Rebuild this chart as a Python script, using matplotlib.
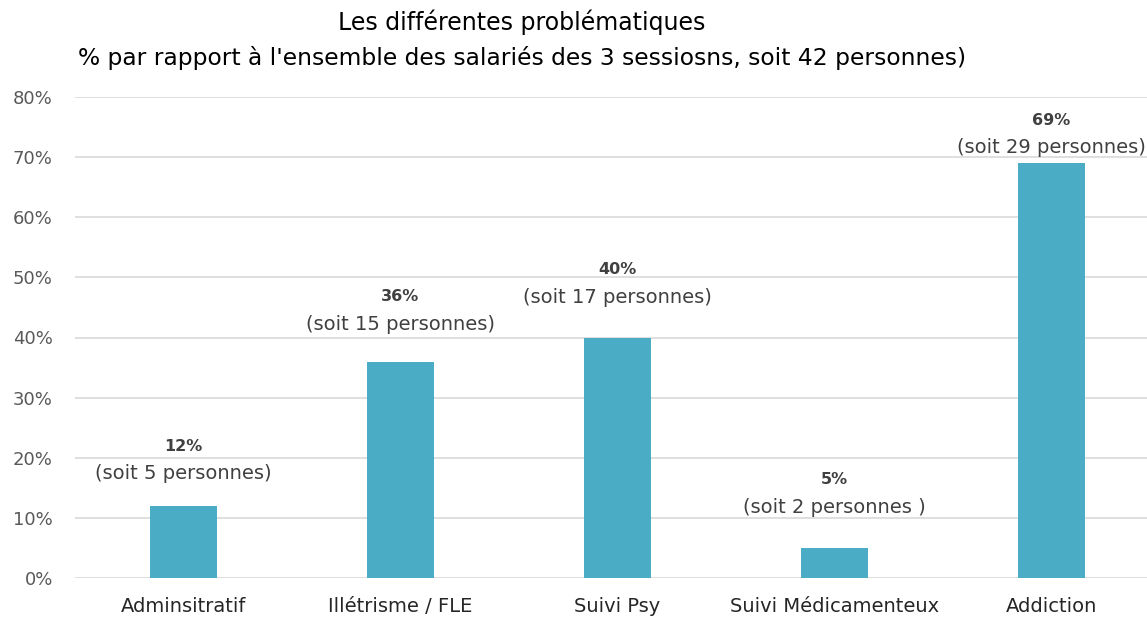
import matplotlib
matplotlib.use("Agg")
import matplotlib.pyplot as plt
import numpy as np

categories = ["Adminsitratif", "Illétrisme / FLE", "Suivi Psy", "Suivi Médicamenteux", "Addiction"]
values = [12, 36, 40, 5, 69]
persons = ["(soit 5 personnes)", "(soit 15 personnes)", "(soit 17 personnes)",
           "(soit 2 personnes )", "(soit 29 personnes)"]
yticks = [0, 10, 20, 30, 40, 50, 60, 70, 80]

# label offsets above bar top, in points
offsets = [23, 27, 29, 29, 11]

bar_color = "#4BACC6"
text_color = "#404040"

fig = plt.figure(figsize=(11.47, 6.2), dpi=100)
ax = fig.add_axes([75 / 1147, 42 / 620, 1085 / 1147, 481 / 620])

x = np.arange(len(categories))
ax.bar(x, values, width=0.31, color=bar_color, zorder=3)

ax.set_xlim(-0.5, len(categories) - 0.5)
ax.set_ylim(0, 80)
ax.set_yticks(yticks)
ax.set_yticklabels([f"{v}%" for v in yticks], fontsize=13, color="#595959")
ax.set_xticks(x)
ax.set_xticklabels(categories, fontsize=14, color="#262626")
ax.tick_params(axis="both", length=0)
ax.tick_params(axis="y", pad=16)
ax.tick_params(axis="x", pad=14)
ax.grid(axis="y", color="#d9d9d9", linewidth=1.2, zorder=0)
for s in ax.spines.values():
    s.set_visible(False)

for xi, v, p, off in zip(x, values, persons, offsets):
    ax.annotate(p, (xi, v), xytext=(0, off), textcoords="offset points",
                ha="center", va="center", fontsize=14, color=text_color)
    ax.annotate(f"{v}%", (xi, v), xytext=(0, off + 20), textcoords="offset points",
                ha="center", va="center", fontsize=11.5, fontweight="bold", color=text_color)

fig.text(522 / 1147, 1 - 22 / 620, "Les différentes problématiques",
         ha="center", va="center", fontsize=17, color="#000000")
fig.text(522 / 1147, 1 - 58 / 620,
         "% par rapport à l'ensemble des salariés des 3 sessiosns, soit 42 personnes)",
         ha="center", va="center", fontsize=16.8, color="#000000")

fig.savefig("out.png", dpi=100)
